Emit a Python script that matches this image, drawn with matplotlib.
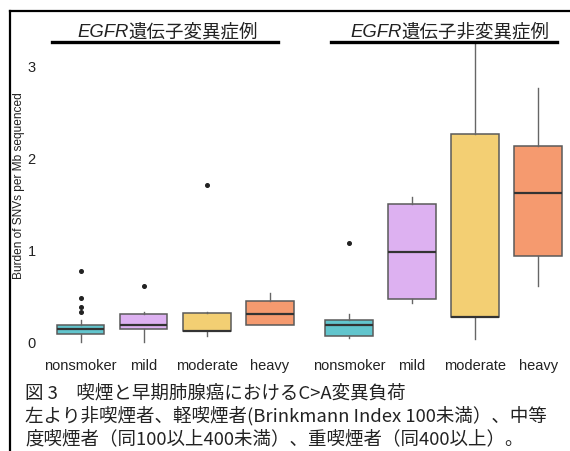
import matplotlib
matplotlib.use('Agg')
import matplotlib.pyplot as plt
from matplotlib.lines import Line2D

plt.rcParams['font.family'] = ['Liberation Sans', 'Noto Sans CJK JP']

categories = ['nonsmoker', 'mild', 'moderate', 'heavy']
colors = ['#62c5cd', '#ddb1f1', '#f3cf73', '#f59a6f']

# EGFR変異症例
mut_lo = [0.0, 0.0, 0.06, 0.18]
mut_q1 = [0.08, 0.14, 0.115, 0.18]
mut_med = [0.14, 0.18, 0.115, 0.30]
mut_q3 = [0.175, 0.30, 0.31, 0.44]
mut_hi = [0.23, 0.32, 0.32, 0.53]
mut_fliers = [[0.32, 0.38, 0.47, 0.77], [0.60], [1.70], []]

# EGFR非変異症例
wt_lo = [0.035, 0.42, 0.027, 0.60]
wt_q1 = [0.057, 0.46, 0.27, 0.926]
wt_med = [0.18, 0.97, 0.27, 1.61]
wt_q3 = [0.234, 1.495, 2.25, 2.13]
wt_hi = [0.30, 1.57, 3.25, 2.755]
wt_fliers = [[1.07], [], [], []]

group_titles = ['遺伝子変異症例', '遺伝子非変異症例']
caption = ['図 3\u3000喫煙と早期肺腺癌におけるC>A変異負荷',
           '左より非喫煙者、軽喫煙者(Brinkmann Index 100未満）、中等',
           '度喫煙者（同100以上400未満）、重喫煙者（同400以上）。']

W, H = 570, 452
fig = plt.figure(figsize=(W / 100, H / 100), dpi=100)

def px(x, y):
    return x / W, 1 - y / H

ax = fig.add_axes([40 / W, 1 - 352 / H, 530 / W, 309 / H])

stats = []
for lo, q1, med, q3, hi, fl in zip(mut_lo + wt_lo, mut_q1 + wt_q1, mut_med + wt_med,
                                   mut_q3 + wt_q3, mut_hi + wt_hi, mut_fliers + wt_fliers):
    stats.append(dict(whislo=lo, q1=q1, med=med, q3=q3, whishi=hi, fliers=fl))

positions = [0, 1, 2, 3, 4.25, 5.25, 6.25, 7.25]
bp = ax.bxp(stats, positions=positions, widths=0.75, patch_artist=True,
            showcaps=False,
            boxprops=dict(edgecolor='#5a5a5a', linewidth=1.1),
            medianprops=dict(color='#333333', linewidth=1.6),
            whiskerprops=dict(color='#666666', linewidth=1.0),
            flierprops=dict(marker='o', markersize=2.6, markerfacecolor='#222222',
                            markeredgecolor='#222222'))
for i, box in enumerate(bp['boxes']):
    box.set_facecolor(colors[i % 4])

ax.set_xlim(-0.645, 7.755)
ax.set_ylim(-0.103, 3.255)
ax.set_yticks([0, 1, 2, 3])
ax.set_yticklabels(['0', '1', '2', '3'])
ax.set_xticks(positions)
ax.set_xticklabels(categories * 2)
ax.tick_params(length=0, labelsize=10.5, colors='#222222')
ax.tick_params(axis='x', pad=5)
ax.tick_params(axis='y', pad=3)
for s in ax.spines.values():
    s.set_visible(False)
ax.set_ylabel('Burden of SNVs per Mb sequenced', fontsize=8.6, color='#222222', va='center')
ax.yaxis.set_label_coords(-0.04, 0.537)

# outer frame (left and top)
fig.add_artist(Line2D([10 / W, 10 / W], [0, 1 - 12 / H], transform=fig.transFigure,
                      color='black', linewidth=1.6))
fig.add_artist(Line2D([10 / W, 1], [1 - 12 / H, 1 - 12 / H], transform=fig.transFigure,
                      color='black', linewidth=1.6))

# group headers with underlines
for (x0, lx0, lx1), title in zip([(77, 52, 278), (350, 331, 557)], group_titles):
    fig.add_artist(Line2D([lx0 / W, lx1 / W], [1 - 43 / H, 1 - 43 / H],
                          transform=fig.transFigure, color='black', linewidth=2.4))
    t1 = fig.text(*px(x0, 37), 'EGFR', fontsize=13.3, style='italic',
                  family='Liberation Sans', va='baseline', color='#222222')
    fig.canvas.draw()
    bb = t1.get_window_extent()
    fig.text(bb.x1 / W, 1 - 37 / H, title, fontsize=13.3,
             family=['Noto Sans CJK JP', 'DejaVu Sans'], va='baseline', color='#222222')

for i, line in enumerate(caption):
    fig.text(*px(25, 398 + 23 * i), line, fontsize=13.3,
             family=['Noto Sans CJK JP', 'DejaVu Sans'], va='baseline', color='#222222')

fig.savefig('out.png', dpi=100)
